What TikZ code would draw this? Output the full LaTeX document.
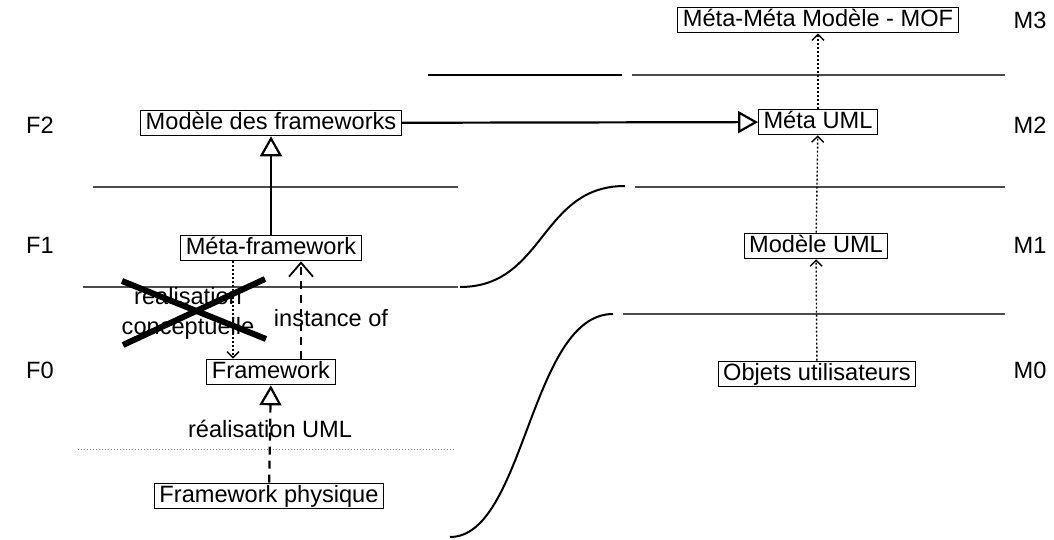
\documentclass[tikz,border=0pt]{standalone}
\usepackage{fontspec}
\setmainfont{Liberation Sans}
\usetikzlibrary{arrows.meta}

\begin{document}
\begin{tikzpicture}[x=0.5pt,y=-0.5pt,
  font=\fontsize{11.8}{14}\selectfont,
  box/.style={rectangle,draw,line width=0.5pt,inner xsep=2.5pt,inner ysep=0.6pt,
    text height=9pt,text depth=2.6pt},
  level/.style={gray!60!black,line width=0.6pt},
  gen/.style={line width=1.1pt,-{Triangle[open,length=10pt,width=11pt]}},
  dep/.style={dash pattern=on 1pt off 1pt,line width=0.7pt,-{Straight Barb[length=3pt,width=6pt]}},
  inst/.style={dash pattern=on 4pt off 3pt,line width=0.9pt,-{Straight Barb[length=7pt,width=12pt]}},
  real/.style={dash pattern=on 4pt off 3pt,line width=1.1pt,-{Triangle[open,length=10pt,width=11pt]}}]
    \useasboundingbox (0,0) rectangle (1054,540);
    % Levels
    \draw[line width=1.2pt] (428,75) -- (622,75);
    \draw[level] (632,75) -- (1005,75);
    \draw[level] (93,187) -- (458,187);
    \draw[level] (635,187) -- (1005,187);
    \draw[level] (83,287) -- (458,287);
    \draw[level] (623,314) -- (1005,314);
    \draw[gray,densely dotted,line width=0.5pt] (78,449) -- (455,449);
    \draw[line width=1pt] (460,287) .. controls (545,287) and (540,186) .. (625,186);
    \draw[line width=1pt] (450,537) .. controls (525,537) and (530,314) .. (613,314);
    % Level names
    \node (f2) at (40,125) {F2};
    \node (f1) at (40,245) {F1};
    \node (f0) at (40,370) {F0};
    \node (m3) at (1030,20) {M3};
    \node (m2) at (1030,125) {M2};
    \node (m1) at (1030,245) {M1};
    \node (m0) at (1030,370) {M0};
    % Frameworks
    \node[box] (mdf) at (271,123) {Modèle des frameworks};
    \node[box] (mfw) at (271,248) {Méta-framework};
    \node[box] (fw) at (271,372) {Framework};
    \node[box] (fwp) at (269,496) {Framework physique};
    % UML
    \node[box] (mof) at (818,20) {Méta-Méta Modèle - MOF};
    \node[box] (muml) at (818,122) {Méta UML};
    \node[box] (uml) at (816,246) {Modèle UML};
    \node[box] (obj) at (817,374) {Objets utilisateurs};
    % Relations
    \draw[gen] (mdf) -- (muml);
    \draw[gen] (mfw) -- (mdf);
    \draw[real] (fwp) -- (fw) node[pos=0.55] (ruml) {réalisation UML};
    \draw[dep] ([xshift=-19pt]mfw.south) -- ([xshift=-19pt]fw.north);
    \draw[inst] ([xshift=15pt]fw.north) -- ([xshift=15pt]mfw.south);
    \node (io) at (331,318) {instance of};
    \node[align=center,inner sep=0pt] (rc) at (188,313) {realisation\\[1pt]conceptuelle};
    \draw[line width=3pt] (122,281) -- (266,339);
    \draw[line width=3pt] (123,345) -- (265,279);
    \draw[dep] (obj) -- (uml);
    \draw[dep] (uml) -- (muml);
    \draw[dep] (muml) -- (mof);
\end{tikzpicture}
\end{document}
